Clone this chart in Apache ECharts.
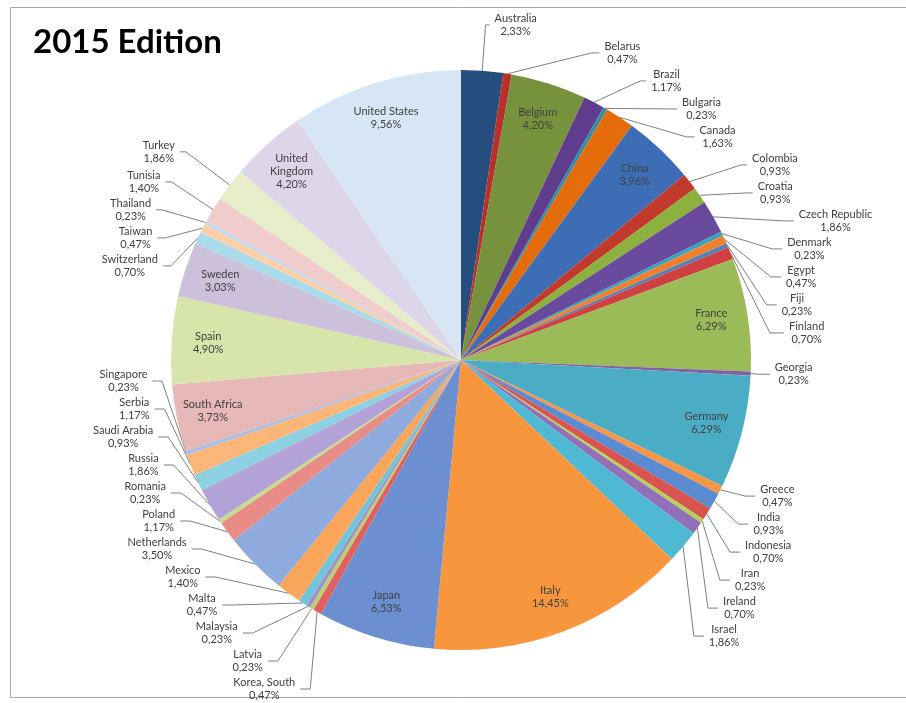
<!DOCTYPE html>
<html>
<head>
<meta charset="utf-8">
<script src="https://cdn.jsdelivr.net/npm/echarts@6/dist/echarts.min.js"></script>
<style>
html,body{margin:0;padding:0;background:#fff;}
#chart{width:906px;height:703px;}
</style>
</head>
<body>
<div id="chart"></div>
<script>
const title = '2015 Edition';
const countries = ['Australia','Belarus','Belgium','Brazil','Bulgaria','Canada','China','Colombia','Croatia','Czech Republic','Denmark','Egypt','Fiji','Finland','France','Georgia','Germany','Greece','India','Indonesia','Iran','Ireland','Israel','Italy','Japan','Korea, South','Latvia','Malaysia','Malta','Mexico','Netherlands','Poland','Romania','Russia','Saudi Arabia','Serbia','Singapore','South Africa','Spain','Sweden','Switzerland','Taiwan','Thailand','Tunisia','Turkey','United Kingdom','United States'];
const shares = [2.33,0.47,4.20,1.17,0.23,1.63,3.96,0.93,0.93,1.86,0.23,0.47,0.23,0.70,6.29,0.23,6.29,0.47,0.93,0.70,0.23,0.70,1.86,14.45,6.53,0.47,0.23,0.23,0.47,1.40,3.50,1.17,0.23,1.86,0.93,1.17,0.23,3.73,4.90,3.03,0.70,0.47,0.23,1.40,1.86,4.20,9.56];
const sliceColors = ['#254E7E','#B8302A','#76923C','#5F3D8C','#2F8FA8','#E46C0A','#3D6DB5','#C0392B','#8DB13E','#6A4A9C','#31A5C2','#F08030','#4F81BD','#D04040','#9BBB59','#8064A2','#4BACC6','#F79646','#5B8BD0','#D9534F','#B5D25A','#9170B8','#4FB9D4','#F7963C','#6B8FD0','#E06060','#B8D070','#A090C8','#70C4DC','#F9A55A','#8FAADC','#E88C88','#C6DB8E','#B3A2D7','#8DD0E2','#FBB77A','#A9BFE6','#E6B9B8','#D7E4AA','#CCC0DA','#A9DCEA','#FCD1A8','#C6D7F0','#F0CCCC','#E5EEC8','#DDD5EA','#D6E6F4'];
const insideNames = ['Belgium','China','France','Germany','Italy','Japan','South Africa','Spain','Sweden','United Kingdom','United States'];
// leader line lengths (styling only): [first segment, second segment]
const leaderStyle = {
  'Australia': [46, 4], 'Belarus': [42, 8], 'Brazil': [40, 6], 'Bulgaria': [30, 8], 'Canada': [18, 8],
  'Colombia': [60, 6], 'Croatia': [45, 6], 'Czech Republic': [70, 10], 'Denmark': [45, 10], 'Egypt': [35, 10], 'Fiji': [25, 10], 'Finland': [25, 14],
  'Turkey': [55, 6], 'Tunisia': [50, 6], 'Thailand': [45, 6], 'Taiwan': [30, 8], 'Switzerland': [16, 8]
};

const fmt = v => v.toFixed(2).replace('.', ',') + '%';
const fontFam = 'Lato, "Open Sans", sans-serif';
const richCentered = {
  n: {align: 'center', fontFamily: fontFam, fontSize: 11, color: '#404040', lineHeight: 13},
  v: {align: 'center', fontFamily: fontFam, fontSize: 11, color: '#404040', lineHeight: 13}
};

const chart = echarts.init(document.getElementById('chart'));
const mainData = countries.map((n, i) => {
  const inside = insideNames.includes(n);
  const ls = leaderStyle[n] || [14, 10];
  return {
    name: n, value: shares[i],
    itemStyle: {color: sliceColors[i]},
    label: {show: !inside},
    labelLine: {show: !inside, length: ls[0], length2: ls[1]}
  };
});
const overlayData = countries.map((n, i) => ({
  name: n, value: shares[i],
  itemStyle: {color: 'rgba(0,0,0,0)'},
  label: {show: insideNames.includes(n)}
}));

chart.setOption({
  animation: false,
  graphic: [
    {type: 'rect', left: 8, top: 5, shape: {width: 1000, height: 690}, style: {fill: 'none', stroke: '#a6a6a6', lineWidth: 1}, silent: true},
    {type: 'text', left: 33, top: 26, style: {text: title, font: 'bold 33px Lato, "Open Sans", sans-serif', fill: '#000'}}
  ],
  series: [
    {
      type: 'pie',
      center: [461, 360],
      radius: '82.5%',
      startAngle: 90,
      clockwise: true,
      data: mainData,
      itemStyle: {borderWidth: 0},
      emphasis: {disabled: true},
      avoidLabelOverlap: true,
      label: {position: 'outside', formatter: p => '{n|' + p.name + '}\n{v|' + fmt(p.value) + '}', rich: richCentered, fontFamily: fontFam, fontSize: 11, color: '#404040', lineHeight: 13},
      labelLine: {lineStyle: {color: '#7f7f7f', width: 1}}
    },
    {
      type: 'pie',
      center: [461, 360],
      radius: ['60%', '82.5%'],
      startAngle: 90,
      clockwise: true,
      silent: true,
      data: overlayData,
      emphasis: {disabled: true},
      label: {position: 'inside', formatter: p => (p.name === 'United Kingdom' ? 'United\nKingdom' : p.name) + '\n' + fmt(p.value), align: 'center', fontFamily: fontFam, fontSize: 11, color: '#404040', lineHeight: 13},
      labelLine: {show: false}
    }
  ]
});
</script>
</body>
</html>
